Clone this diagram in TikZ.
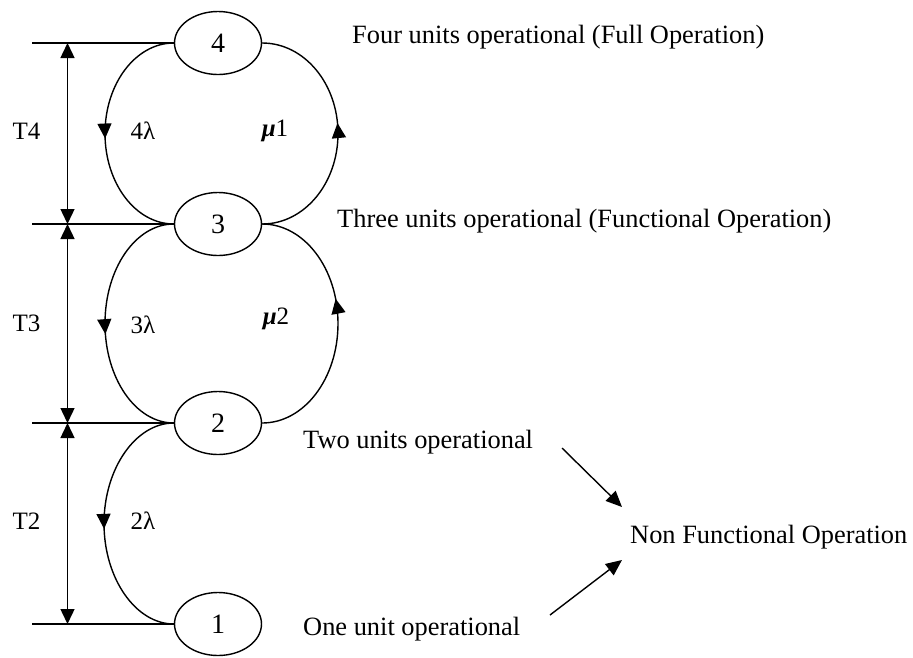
\documentclass[tikz,border=0pt]{standalone}
\usepackage{fontspec}
\setmainfont{Liberation Serif}
\usetikzlibrary{arrows.meta,shapes.geometric,decorations.markings}
\tikzset{
  state/.style={draw,ellipse,line width=1.4pt,minimum width=87pt,minimum height=63pt,inner sep=0pt,font=\fontsize{28}{30}\selectfont},
  conn/.style={line width=1.4pt},
  dimarrow/.style={line width=1.4pt,{Triangle[width=14pt,length=15pt]}-{Triangle[width=14pt,length=15pt]}},
  ptr/.style={line width=1.4pt,-{Triangle[width=14pt,length=16pt]}},
  midarrow/.style={postaction={decorate},decoration={markings,mark=at position #1 with {\arrow{Triangle[width=14pt,length=15pt]}}}},
  lbl/.style={inner sep=0pt,font=\fontsize{25}{27}\selectfont},
  desc/.style={inner sep=0pt,anchor=base west,font=\fontsize{26.4}{28}\selectfont}
}
\begin{document}
\begin{tikzpicture}[x=1pt,y=-1pt]
\useasboundingbox (0,0) rectangle (913,657);
% states
\node[state] (n4) at (218,43) {4};
\node[state] (n3) at (218,224) {3};
\node[state] (n2) at (218,423) {2};
\node[state] (n1) at (218,624) {1};
% curve extreme points
\coordinate (L4) at (105,133.5);
\coordinate (R4) at (338,133.5);
\coordinate (L3) at (105,323.5);
\coordinate (R3) at (338,323.5);
\coordinate (L2) at (104,523.5);
% failure arcs (left)
\draw[conn,midarrow=0.52] (n4.west) .. controls +(-38,0) and +(0,-50) .. (L4) .. controls +(0,50) and +(-38,0) .. (n3.west);
\draw[conn,midarrow=0.54] (n3.west) .. controls +(-38,0) and +(0,-55) .. (L3) .. controls +(0,55) and +(-38,0) .. (n2.west);
\draw[conn,midarrow=0.52] (n2.west) .. controls +(-38,0) and +(0,-55) .. (L2) .. controls +(0,55) and +(-38,0) .. (n1.west);
% repair arcs (right)
\draw[conn,midarrow=0.54] (n3.east) .. controls +(42,0) and +(0,50) .. (R4) .. controls +(0,-50) and +(42,0) .. (n4.east);
\draw[conn,midarrow=0.59] (n2.east) .. controls +(42,0) and +(0,55) .. (R3) .. controls +(0,-55) and +(42,0) .. (n3.east);
% dimension lines
\coordinate (h4) at (32,43);
\coordinate (h3) at (32,224);
\coordinate (h2) at (32,423);
\coordinate (h1) at (32,624);
\coordinate (v4) at (67.5,43);
\coordinate (v3) at (67.5,224);
\coordinate (v2) at (67.5,423);
\coordinate (v1) at (67.5,624);
\draw[conn] (h4) -- (n4.west);
\draw[conn] (h3) -- (n3.west);
\draw[conn] (h2) -- (n2.west);
\draw[conn] (h1) -- (n1.west);
\draw[dimarrow] (v4) -- (v3);
\draw[dimarrow] (v3) -- (v2);
\draw[dimarrow] (v2) -- (v1);
% labels
\node[lbl] (t4) at (26.5,131) {T4};
\node[lbl] (t3) at (26.5,323) {T3};
\node[lbl] (t2) at (26.5,521) {T2};
\node[lbl] (l4) at (143,131) {4λ};
\node[lbl] (l3) at (143,325) {3λ};
\node[lbl] (l2) at (143,521) {2λ};
\node[lbl] (m1) at (275,131) {\textbf{\textit{μ}}1};
\node[lbl] (m2) at (276,319) {\textbf{\textit{μ}}2};
% descriptions
\node[desc] (d4) at (352,43) {Four units operational (Full Operation)};
\node[desc] (d3) at (337,227) {Three units operational (Functional Operation)};
\node[desc] (d2) at (303,448) {Two units operational};
\node[desc] (d1) at (303,635) {One unit operational};
\node[desc] (nf) at (630,543) {Non Functional Operation};
\coordinate (a1s) at (562,448);
\coordinate (a1e) at (622,507);
\coordinate (a2s) at (550,615);
\coordinate (a2e) at (622,560);
\draw[ptr] (a1s) -- (a1e);
\draw[ptr] (a2s) -- (a2e);
\end{tikzpicture}
\end{document}
